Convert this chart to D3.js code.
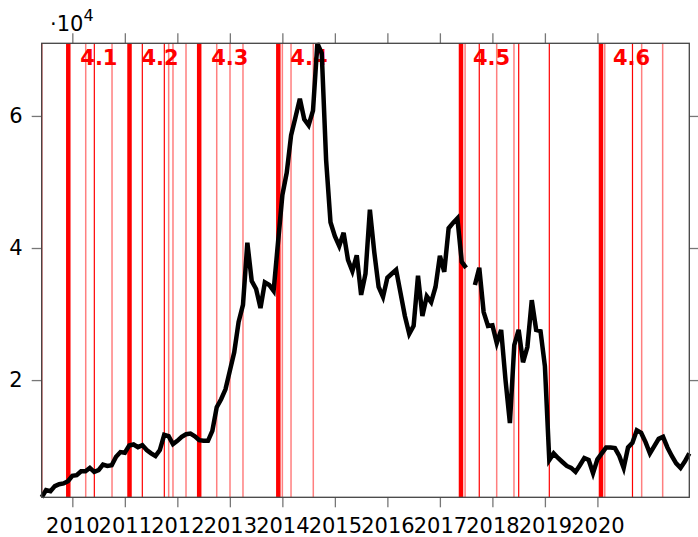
<!DOCTYPE html>
<html>
<head>
<meta charset="utf-8">
<script src="https://cdn.jsdelivr.net/npm/d3@7"></script>
<style>
  body { margin: 0; background: #fff; }
  text { font-family: "DejaVu Sans", sans-serif; }
</style>
</head>
<body>
<div id="chart"></div>
<script>
// monthly series, first month June 2009
var startYear = 2009 + 5 / 12;
var values = [
  2250, 3330, 3180, 3940, 4240, 4350, 4700, 5500, 5600, 6200, 6200, 6700,
  6100, 6360, 7200, 7000, 7100, 8400, 9100, 9000, 10100, 10250, 9850, 10150,
  9400, 8900, 8500, 9400, 11700, 11500, 10300, 10800, 11400, 11800, 11900, 11500,
  10900, 10800, 10800, 12300, 15900, 17100, 18600, 21400, 24200, 28800, 31400, 40800,
  35000, 33800, 30900, 34800, 34400, 33500, 40800, 48000, 51400, 57100, 59800, 62600,
  59500, 58600, 60800, 71000, 69500, 53300, 43900, 41800, 40300, 42300, 38200, 36500,
  38900, 32900, 36100, 45800, 39400, 34100, 32600, 35500, 36100, 36700, 33200, 29700,
  27000, 28200, 35800, 29700, 32700, 31800, 34100, 38800, 36400, 43000, 43800, 44500,
  37900, 37000, null, 34400, 37000, 30300, 28200, 28300, 25600, 27600, 20000, 13500,
  25300, 27600, 22700, 25000, 32100, 27600, 27400, 22100, 7900, 8900, 8200, 7600,
  7000, 6700, 6100, 7100, 8200, 7900, 5900, 8000, 8900, 9800, 9800, 9700,
  8500, 6700, 9800, 10500, 12400, 12000, 10600, 8900, 10000, 11100, 11400, 9800,
  8500, 7400, 6700, 7700, 8900
];

// release markers (decimal years) by kind
var majorReleases = [2009.923, 2011.089, 2012.416, 2013.923, 2017.402, 2020.068];
var majorLabels = ["4.1", "4.2", "4.3", "4.4", "4.5", "4.6"];
var minorReleases = [2009.417, 2010.419, 2011.333, 2011.752, 2017.75, 2018.501, 2019.084, 2020.668];
var patchReleases = [2010.255, 2010.756, 2011.835, 2011.917, 2012.165, 2012.75, 2013.003, 2013.25,
  2014.0, 2014.165, 2014.589, 2017.48, 2018.082, 2018.411, 2020.14, 2020.843, 2021.243];

var xTicks = [2010, 2011, 2012, 2013, 2014, 2015, 2016, 2017, 2018, 2019, 2020];
var yTicks = [20000, 40000, 60000];

var svgWidth = 698, svgHeight = 537;
var margin = { top: 43.3, left: 41.7, right: 8.7, bottom: 39.7 };
var width = svgWidth - margin.left - margin.right;
var height = svgHeight - margin.top - margin.bottom;

var svg = d3.select("#chart").append("svg")
  .attr("width", svgWidth)
  .attr("height", svgHeight);

var g = svg.append("g")
  .attr("transform", `translate(${margin.left}, ${margin.top})`);

var data = values.map(function(v, i) { return { x: startYear + i / 12, y: v }; });

var xScale = d3.scaleLinear()
  .domain([startYear, startYear + (values.length - 1) / 12])
  .range([0, width]);

var yScale = d3.scaleLinear()
  .domain(d3.extent(values))
  .range([height, 0]);

// release lines
g.selectAll(".patch").data(patchReleases).enter().append("line")
  .attr("x1", d => xScale(d)).attr("x2", d => xScale(d))
  .attr("y1", 0).attr("y2", height)
  .attr("stroke", "#ff0000").attr("stroke-opacity", 0.5).attr("stroke-width", 1.5);

g.selectAll(".minor").data(minorReleases).enter().append("line")
  .attr("x1", d => xScale(d)).attr("x2", d => xScale(d))
  .attr("y1", 0).attr("y2", height)
  .attr("stroke", "#ff0000").attr("stroke-width", 1.2);

g.selectAll(".major").data(majorReleases).enter().append("line")
  .attr("x1", d => xScale(d)).attr("x2", d => xScale(d))
  .attr("y1", 0).attr("y2", height)
  .attr("stroke", "#ff0000").attr("stroke-width", 4.5);

g.selectAll(".relLabel").data(majorReleases).enter().append("text")
  .attr("x", d => xScale(d) + 12)
  .attr("y", 65.5 - margin.top)
  .attr("fill", "#ff0000")
  .attr("font-weight", "bold")
  .attr("font-size", "21px")
  .text((d, i) => majorLabels[i]);

// series
var line = d3.line()
  .defined(d => d.y !== null)
  .x(d => xScale(d.x))
  .y(d => yScale(d.y));

g.append("path")
  .datum(data)
  .attr("d", line)
  .attr("fill", "none")
  .attr("stroke", "#000")
  .attr("stroke-width", 4.5)
  .attr("stroke-linejoin", "miter");

// axes: ticks outward on all four sides
var tickLen = 10;
var axes = [
  d3.axisBottom(xScale).tickValues(xTicks).tickFormat(d3.format("d")),
  d3.axisTop(xScale).tickValues(xTicks).tickFormat(""),
  d3.axisLeft(yScale).tickValues(yTicks).tickFormat(d => d / 10000),
  d3.axisRight(yScale).tickValues(yTicks).tickFormat("")
];
var shifts = [`translate(0, ${height})`, "translate(0,0)", "translate(0,0)", `translate(${width}, 0)`];
axes.forEach(function(ax, i) {
  var a = g.append("g")
    .attr("transform", shifts[i])
    .call(ax.tickSizeInner(tickLen).tickSizeOuter(0).tickPadding(i == 2 ? 9 : 11));
  a.select(".domain").remove();
  a.selectAll(".tick line").attr("stroke", "#777").attr("stroke-width", 1.3);
  a.selectAll(".tick text")
    .attr("font-family", "DejaVu Sans")
    .attr("font-size", "21px")
    .attr("fill", "#000");
});

g.append("rect")
  .attr("width", width).attr("height", height)
  .attr("fill", "none")
  .attr("stroke", "#444")
  .attr("stroke-width", 1.3);

// scale label
var sl = svg.append("text")
  .attr("x", 50)
  .attr("y", 31)
  .attr("font-size", "21px")
  .attr("fill", "#000");
sl.append("tspan").text("·10");
sl.append("tspan").attr("dy", -10).attr("font-size", "16px").text("4");
</script>
</body>
</html>
